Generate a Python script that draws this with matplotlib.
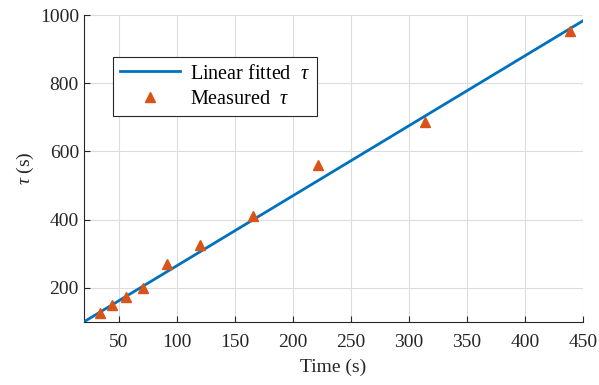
import matplotlib
matplotlib.use("Agg")
import matplotlib.pyplot as plt
import numpy as np

plt.rcParams['font.family'] = ['Liberation Serif', 'DejaVu Serif']
plt.rcParams['mathtext.fontset'] = 'custom'
plt.rcParams['mathtext.it'] = 'Liberation Serif:italic'
plt.rcParams['mathtext.rm'] = 'Liberation Serif'

meas_t = [34, 44, 56, 71, 92, 120, 166, 222, 314, 439]
meas_tau = [125, 150, 172, 200, 270, 326, 410, 560, 687, 952]
fit_t = [20, 450]
fit_slope = 2.053
fit_intercept = 59
fit_tau = [fit_slope * t + fit_intercept for t in fit_t]

fig = plt.figure(figsize=(5.99, 3.85), dpi=100)
ax = fig.add_axes([0.140, 0.164, 0.833, 0.797])

ax.plot(fit_t, fit_tau, color='#0072BD', lw=2, label=r'Linear fitted  $\tau$', zorder=3)
ax.plot(meas_t, meas_tau, '^', color='#D95319', ms=6.5, ls='none', label=r'Measured  $\tau$', zorder=4)

ax.set_xlim(20, 450)
ax.set_ylim(100, 1000)
ax.set_xticks([50, 100, 150, 200, 250, 300, 350, 400, 450])
ax.set_yticks([200, 400, 600, 800, 1000])
ax.grid(True, color='#dcdcdc', lw=0.8)
ax.set_axisbelow(True)
for s in ['top', 'right']:
    ax.spines[s].set_visible(False)
for s in ['left', 'bottom']:
    ax.spines[s].set_color('#262626')
    ax.spines[s].set_linewidth(0.8)
ax.tick_params(direction='in', length=4, width=0.8, colors='#262626', labelsize=14, labelcolor='#262626')
ax.tick_params(axis='x', pad=9)
ax.set_xlabel('Time (s)', fontsize=14, color='#262626', labelpad=5)
ax.set_ylabel(r'$\tau$ (s)', fontsize=14, color='#262626', labelpad=3)

leg = ax.legend(loc='upper left', bbox_to_anchor=(0.058, 0.862), borderaxespad=0, fontsize=14.5,
                frameon=True, fancybox=False, edgecolor='#262626', framealpha=1, handlelength=3.0,
                borderpad=0.35, labelspacing=0.3, handletextpad=0.5)
leg.get_frame().set_linewidth(0.8)

fig.savefig('out.png', dpi=100)
